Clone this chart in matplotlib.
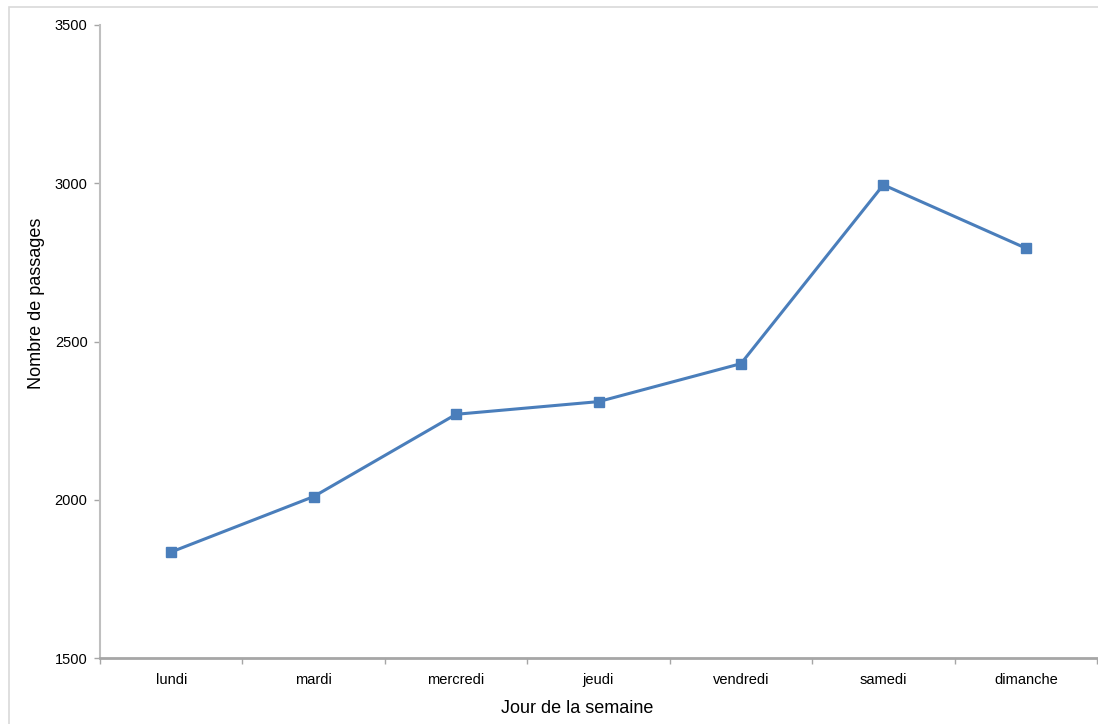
import matplotlib.pyplot as plt
from matplotlib.patches import Rectangle
import numpy as np

plt.rcParams['font.family'] = ['Liberation Sans', 'DejaVu Sans']

jours = ['lundi', 'mardi', 'mercredi', 'jeudi', 'vendredi', 'samedi', 'dimanche']
passages = [1835, 2010, 2270, 2310, 2430, 2995, 2795]
y_ticks = [1500, 2000, 2500, 3000, 3500]

fig = plt.figure(figsize=(10.98, 7.24), dpi=100)

# light chart-area frame
fig.patches.append(Rectangle((9 / 1098, -0.1), 1.2, 1 + 0.1 - 7 / 724,
                             transform=fig.transFigure, fill=False,
                             edgecolor='#d9d9d9', linewidth=1.2))

ax = fig.add_axes([100 / 1098, 66 / 724, 997 / 1098, 633 / 724])

x = np.arange(len(jours))
ax.plot(x, passages, color='#4a7ebb', linewidth=2.2, marker='s',
        markersize=7, markerfacecolor='#4a7ebb', markeredgecolor='#4a7ebb')

ax.set_xlim(-0.5, len(jours) - 0.5)
ax.set_ylim(1500, 3500)
ax.set_yticks(y_ticks)
ax.set_yticklabels([str(v) for v in y_ticks], fontsize=10.5)

# category labels centred, tick marks between categories
ax.set_xticks(x)
ax.set_xticklabels(jours, fontsize=10.5)
ax.set_xticks(np.arange(-0.5, len(jours)), minor=True)
ax.tick_params(axis='x', which='major', length=0, pad=11)
ax.tick_params(axis='x', which='minor', length=4, color='#a6a6a6', width=1)
ax.tick_params(axis='y', length=4, color='#a6a6a6', width=1, pad=5)

for side in ['top', 'right']:
    ax.spines[side].set_visible(False)
ax.spines['left'].set_color('#bfbfbf')
ax.spines['left'].set_linewidth(1.5)
ax.spines['bottom'].set_color('#a6a6a6')
ax.spines['bottom'].set_linewidth(2)

ax.set_xlabel('Jour de la semaine', fontsize=13, labelpad=9)
ax.set_ylabel('Nombre de passages', fontsize=13, labelpad=7)
ax.xaxis.label.set_x(0.479)
ax.yaxis.label.set_y(0.561)

fig.savefig('out.png', dpi=100)
